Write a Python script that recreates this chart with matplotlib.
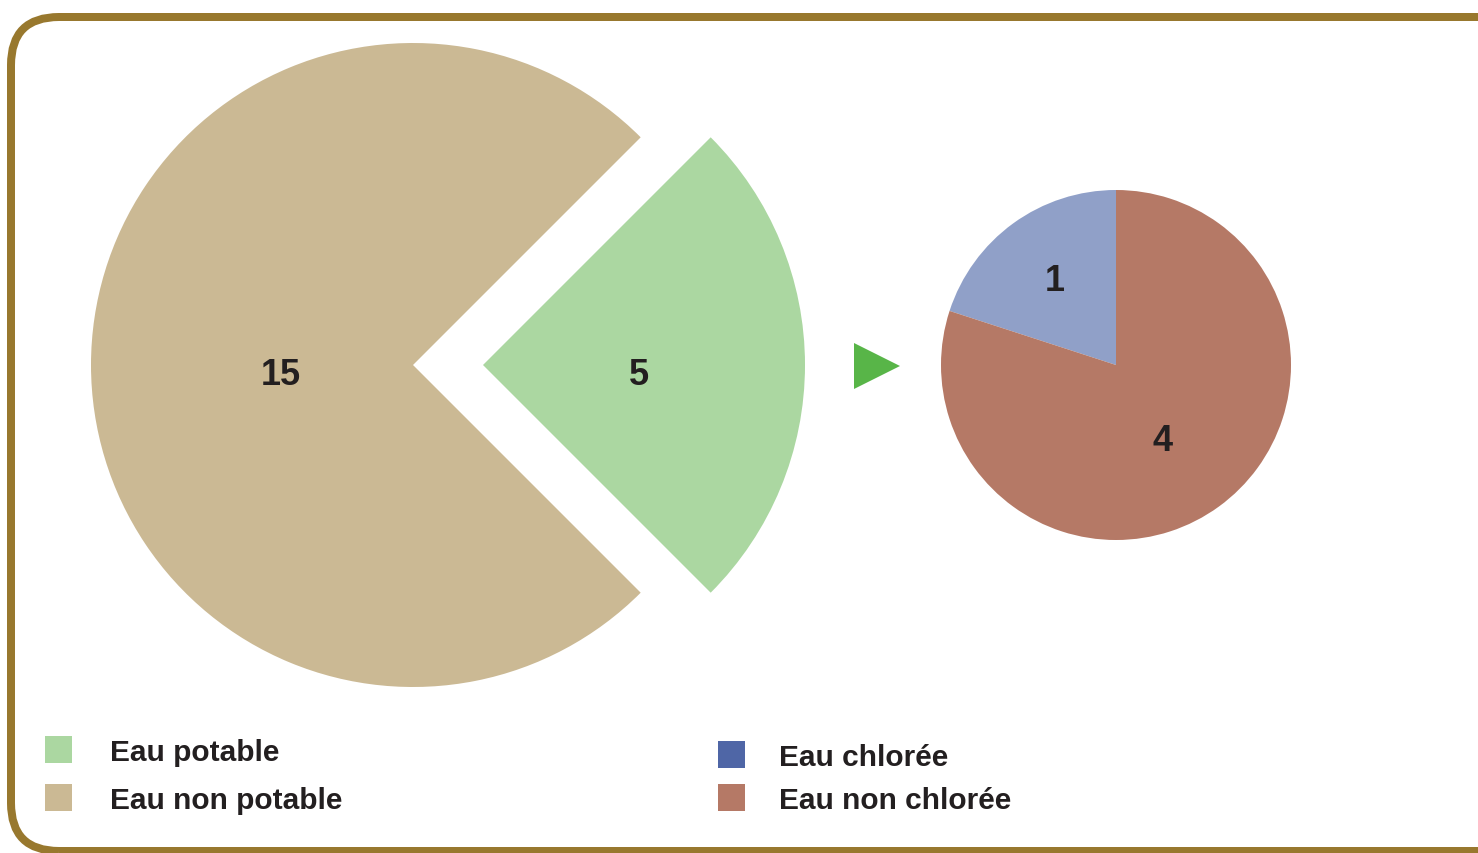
import matplotlib.pyplot as plt
import numpy as np
from matplotlib.patches import FancyBboxPatch, Polygon, Rectangle

# data
main_labels = ["Eau potable", "Eau non potable"]
main_values = [5, 15]
main_colors = ["#abd7a1", "#cbb994"]

sub_labels = ["Eau chlorée", "Eau non chlorée"]
sub_values = [1, 4]
sub_colors = ["#90a0c8", "#b57966"]
sub_legend_colors = ["#4f66a6", "#b57966"]

W, H = 1478, 854
plt.rcParams["font.family"] = ["Liberation Sans", "DejaVu Sans"]

fig = plt.figure(figsize=(W / 100, H / 100), dpi=100)
ax = fig.add_axes((0, 0, 1, 1))


def y(v: float) -> float:
    # image row -> data y (axis points up)
    return H - v


def put_labels(wedges, values, dists, dys) -> None:
    for w, v, d, dy in zip(wedges, values, dists, dys):
        mid = np.deg2rad((w.theta1 + w.theta2) / 2)
        cx, cy = w.center
        ax.text(cx + d * w.r * np.cos(mid), cy + d * w.r * np.sin(mid) - dy, str(v),
                ha="center", va="center", fontsize=26, fontweight="bold", color="#231f20")


# big pie
big, _ = ax.pie(main_values, colors=main_colors, startangle=-45, counterclock=True,
                explode=[70, 0], radius=322, center=(413, y(366)),
                wedgeprops={"linewidth": 0})
put_labels(big, main_values, [0.485, 0.41], [10, 10])

# small pie
small, _ = ax.pie(sub_values, colors=sub_colors, startangle=90, counterclock=True,
                  radius=175, center=(1116, y(366)), wedgeprops={"linewidth": 0})
put_labels(small, sub_values, [0.6, 0.45], [0, 12])

# arrow
ax.add_patch(Polygon([(854, y(344)), (854, y(390)), (900, y(367))], closed=True,
                     facecolor="#58b548", edgecolor="none"))

# legends
for i, (lab, col) in enumerate(zip(main_labels, main_colors)):
    yc = y(750 + 48 * i)
    ax.add_patch(Rectangle((45, yc - 13.5), 27, 27, facecolor=col, edgecolor="none"))
    ax.text(110, yc - 3, lab, ha="left", va="center", fontsize=21.5, fontweight="bold", color="#231f20")

for i, (lab, col) in enumerate(zip(sub_labels, sub_legend_colors)):
    yc = y(755 + 43 * i)
    ax.add_patch(Rectangle((718, yc - 13.5), 27, 27, facecolor=col, edgecolor="none"))
    ax.text(779, yc - 3, lab, ha="left", va="center", fontsize=21.5, fontweight="bold", color="#231f20")

# frame
ax.add_patch(FancyBboxPatch((11, y(852)), 1600, 834, boxstyle="round,pad=0,rounding_size=48",
                            facecolor="none", edgecolor="#98782e", linewidth=8 * 0.72))

ax.set_xlim(0, W)
ax.set_ylim(0, H)
ax.set_aspect("equal")
ax.axis("off")

fig.savefig("out.png", dpi=100)
